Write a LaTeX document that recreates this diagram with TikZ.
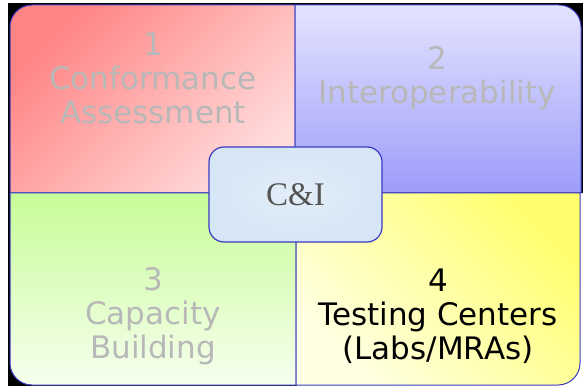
\documentclass[tikz,border=0pt]{standalone}
\usepackage{fontspec}
\setmainfont{DejaVu Sans}
\newfontfamily\ciserif{Liberation Serif}
\definecolor{qborder}{HTML}{3A3AC0}
\definecolor{dimtext}{HTML}{B8B8B8}
\definecolor{citext}{HTML}{555555}
\definecolor{redA}{HTML}{FF8585}
\definecolor{redB}{HTML}{FFDCDC}
\definecolor{blueA}{HTML}{E4E4FF}
\definecolor{blueB}{HTML}{9C9CFA}
\definecolor{greenA}{HTML}{C8FC98}
\definecolor{greenB}{HTML}{F6FFEE}
\definecolor{yelA}{HTML}{FFFF6E}
\definecolor{yelB}{HTML}{FFFFE4}
\definecolor{ciA}{HTML}{D6E6F6}
\definecolor{ciB}{HTML}{E2EEF8}
\tikzset{
  quad/.style={draw=qborder, line width=1pt},
  qlabel/.style={align=center, font=\fontsize{31}{34}\selectfont, inner sep=0pt},
  cibox/.style={draw=qborder, line width=1.2pt, rounded corners=15pt, minimum width=173pt, minimum height=95pt, inner color=ciB, outer color=ciA, font=\ciserif\fontsize{33}{36}\selectfont, text=citext}
}
\begin{document}
\begin{tikzpicture}[x=1pt,y=-1pt]
\useasboundingbox (0,0) rectangle (585,387);
% dark backdrop
\fill[black] (8,3) rectangle (583,193);
\fill[black] (8,193) rectangle (297,386);
% quadrants
\path[quad, top color=redA, bottom color=redB, shading angle=45]
  (295,193) -- (10,193) [rounded corners=22pt] -- (10,5) [sharp corners] -- (295,5) -- cycle;
\path[quad, top color=blueA, bottom color=blueB]
  (295,5) [rounded corners=22pt] -- (581,5) [sharp corners] -- (581,193) -- (295,193) -- cycle;
\path[quad, top color=greenA, bottom color=greenB]
  (10,193) -- (296,193) -- (296,385) [rounded corners=22pt] -- (10,385) [sharp corners] -- cycle;
\path[quad, top color=yelA, bottom color=yelB, shading angle=-45]
  (296,193) -- (580,193) [rounded corners=22pt] -- (580,385) [sharp corners] -- (296,385) -- cycle;
% labels
\node[qlabel, text=dimtext] (l1) at (153,78) {1\\Conformance\\Assessment};
\node[qlabel, text=dimtext] (l2) at (437,78) {2\\Interoperability};
\node[qlabel, text=dimtext] (l3) at (153,316) {3\\Capacity\\Building};
\node[qlabel, text=black] (l4) at (438,316) {4\\Testing Centers\\(Labs/MRAs)};
% centre
\node[cibox] (ci) at (295.5,194.5) {C\&I};
\end{tikzpicture}
\end{document}
